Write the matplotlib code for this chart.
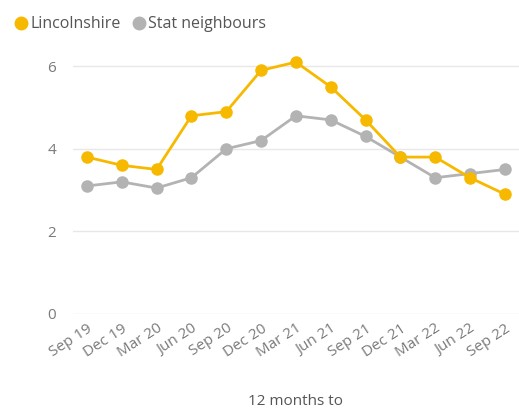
import matplotlib
matplotlib.use("Agg")
import matplotlib.pyplot as plt
from matplotlib.lines import Line2D

periods = ["Sep 19", "Dec 19", "Mar 20", "Jun 20", "Sep 20", "Dec 20", "Mar 21",
           "Jun 21", "Sep 21", "Dec 21", "Mar 22", "Jun 22", "Sep 22"]
lincolnshire = [3.8, 3.6, 3.5, 4.8, 4.9, 5.9, 6.1, 5.5, 4.7, 3.8, 3.8, 3.3, 2.9]
stat_neighbours = [3.1, 3.2, 3.05, 3.3, 4.0, 4.2, 4.8, 4.7, 4.3, 3.8, 3.3, 3.4, 3.5]

yellow = "#F7B900"
grey = "#B3B3B3"
text_col = "#7a7a7a"

plt.rcParams["font.family"] = ["Open Sans", "DejaVu Sans"]

fig = plt.figure(figsize=(5.19, 4.08), dpi=100)
ax = fig.add_axes([0.1407, 0.2304, 0.859, 0.668])

x = list(range(len(periods)))
ax.plot(x, lincolnshire, color=yellow, linewidth=2, marker="o", markersize=8, zorder=3)
ax.plot(x, stat_neighbours, color=grey, linewidth=2, marker="o", markersize=8, zorder=2)

ax.set_xlim(-0.4, 12.4)
ax.set_ylim(0, 6.6)
ax.set_yticks([0, 2, 4, 6])
ax.set_xticks(x)
ax.set_xticklabels(periods, rotation=33, ha="right", rotation_mode="anchor")
ax.tick_params(axis="both", length=0, colors=text_col, labelsize=11)
ax.tick_params(axis="y", pad=12)
ax.tick_params(axis="x", pad=5)
for s in ax.spines.values():
    s.set_visible(False)
ax.grid(axis="y", color="#e8e8e8", linewidth=1)
ax.set_axisbelow(True)

ax.set_xlabel("12 months to", color="#555555", fontsize=11, labelpad=24)

handles = [
    Line2D([], [], color=yellow, marker="o", linestyle="", markersize=9),
    Line2D([], [], color=grey, marker="o", linestyle="", markersize=9),
]
fig.legend(handles, ["Lincolnshire", "Stat neighbours"], loc="upper left",
           bbox_to_anchor=(-0.005, 0.995), ncol=2, frameon=False, fontsize=11.5,
           handletextpad=0.0, columnspacing=0.5, labelcolor="#555555",
           handlelength=1.2)

fig.savefig("out.png", dpi=100)
